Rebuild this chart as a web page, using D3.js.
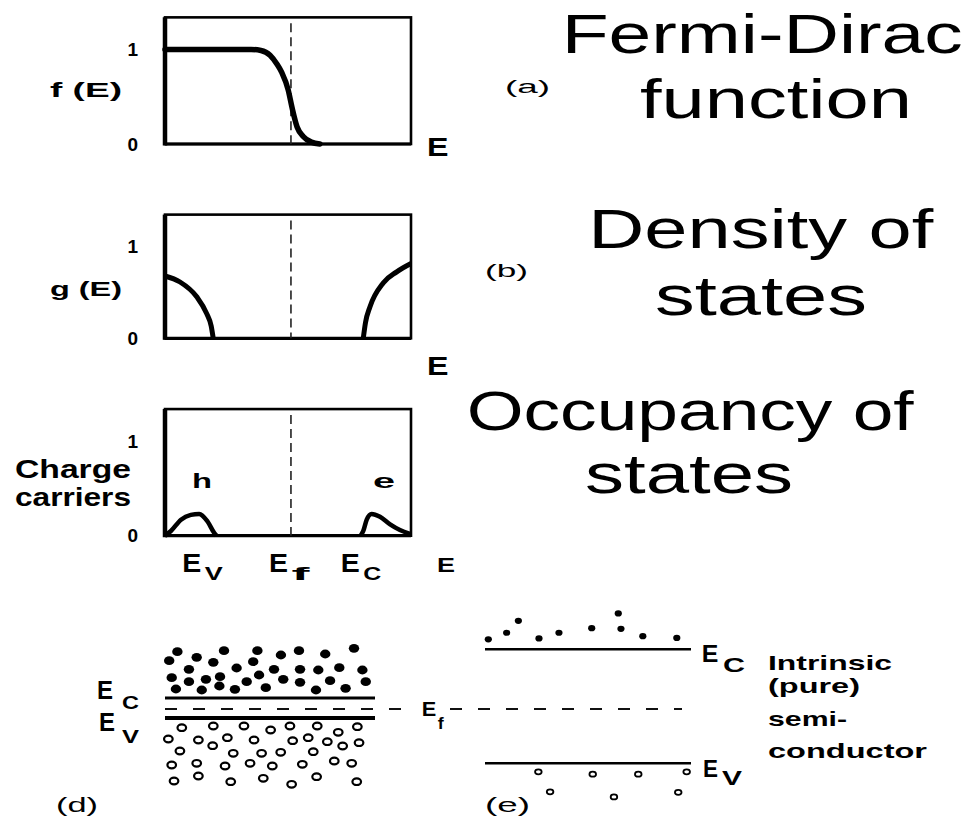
<!DOCTYPE html>
<html>
<head>
<meta charset="utf-8">
<script src="https://cdn.jsdelivr.net/npm/d3@7/dist/d3.min.js"></script>
<style>
  html, body { margin: 0; padding: 0; background: #fff; }
  svg { display: block; }
</style>
</head>
<body>
<svg id="chart" width="967" height="827"></svg>
<script>
// ---- (a) Fermi-Dirac occupation f(E), energy in arbitrary units 0..100 ----
const fdEnergy = [0, 20, 35, 39, 42.7, 45.4, 47.4, 50.1, 51.6, 53.7, 56.2, 59.5, 63];
const fdValue  = [1, 1, 1, 0.99, 0.94, 0.85, 0.76, 0.57, 0.39, 0.18, 0.08, 0.02, 0];
const fermiLevel = 51.2;

// ---- (b) density of states: valence band (left) and conduction band (right) ----
const dosValenceE = [0, 6.1, 12.9, 16.9, 18.8, 19.6];
const dosValenceG = [0.675, 0.61, 0.45, 0.27, 0.13, 0];
const dosCondE = [80.6, 81.5, 83.3, 88.7, 94.2, 100];
const dosCondG = [0, 0.17, 0.34, 0.60, 0.72, 0.81];

// ---- (c) carrier occupancy: holes (h) and electrons (e) ----
const holesE = [0, 2.4, 6.5, 10.5, 13.9, 17.3, 20, 21];
const holesN = [0, 0.05, 0.17, 0.22, 0.23, 0.15, 0.03, 0];
const electronsE = [79.5, 80.6, 82, 84, 87.4, 91.5, 95.5, 99.6];
const electronsN = [0, 0.05, 0.17, 0.23, 0.2, 0.12, 0.06, 0.02];
const carrierTickPos = [15.6, 50.8, 80];
const carrierTickMain = ["E", "E", "E"];
const carrierTickSub = ["V", "f", "C"];
const yTicks = [0, 1];

// ---- (d) band diagram: position 0..100, energy with Ev=-1, Ec=+1, Ef=0 ----
const bandEdges = [1, -1];          // Ec, Ev
const fermiEnergy = 0;
const dElectronsX = [5.9, 15.1, 28.1, 44.0, 55.2, 63.8, 76.3, 90.0, 2.0, 23.0, 42.0, 11.4, 34.1, 51.9, 64.3, 73.0, 83.0, 94.0,
  3.2, 11.4, 19.5, 26.2, 38.9, 44.8, 56.3, 64.3, 78.6, 95.6, 5.2, 17.5, 25.9, 33.3, 48.0, 71.9, 86.0];
const dElectronsE = [5.63, 5.07, 5.73, 5.73, 5.30, 5.73, 5.40, 5.97, 4.73, 4.57, 4.63, 3.87, 4.0, 3.87, 3.87, 3.80, 4.03, 3.80,
  3.03, 2.63, 2.87, 3.13, 2.63, 3.30, 2.87, 2.57, 2.73, 2.63, 1.90, 1.80, 2.20, 1.87, 2.03, 1.80, 1.97];
const dHolesX = [8.0, 23.0, 37.6, 50.3, 59.5, 72.5, 82.5, 91.6, 1.6, 15.9, 22.7, 29.7, 42.4, 60.8, 68.2, 77.3, 84.6, 92.4,
  7.1, 32.5, 46.0, 55.1, 70.6, 3.2, 15.1, 28.6, 40.5, 51.1, 65.4, 80.6, 88.9, 4.3, 15.9, 31.3, 46.8, 60.3, 72.2, 91.3];
const dHolesE = [-1.97, -1.80, -1.80, -2.20, -1.80, -1.80, -2.43, -1.87, -3.10, -3.20, -3.77, -2.97, -3.20, -3.27, -2.97, -3.37, -3.80, -3.47,
  -4.30, -4.53, -4.53, -4.43, -4.37, -5.70, -5.53, -5.80, -5.53, -5.80, -5.63, -5.30, -5.53, -7.30, -6.80, -7.37, -7.03, -7.63, -6.87, -7.37];

// ---- (e) intrinsic semiconductor: few carriers across the gap ----
const eElectronsX = [1.6, 10.5, 16.2, 26.2, 35.9, 51.8, 64.7, 66.0, 76.6, 93.1];
const eElectronsE = [1.175, 1.29, 1.50, 1.19, 1.29, 1.37, 1.63, 1.36, 1.23, 1.20];
const eHolesX = [25.9, 52.3, 74.4, 97.9, 31.6, 62.6, 93.8];
const eHolesE = [-1.15, -1.19, -1.19, -1.15, -1.50, -1.59, -1.51];

const titles = [["Fermi-Dirac", "function"], ["Density of", "states"], ["Occupancy of", "states"]];
const sideNote = ["Intrinsic", "(pure)", "semi-", "conductor"];

// ------------------------------------------------------------------
const svg = d3.select("#chart");
const SANS = "'Liberation Sans', Arial, Helvetica, sans-serif";

function text(x, y, s, size, opt = {}) {
  const t = svg.append("text")
    .attr("x", x).attr("y", y)
    .attr("font-family", opt.family || SANS)
    .attr("font-size", size)
    .attr("font-weight", opt.weight || "bold")
    .attr("fill", "#000")
    .text(s);
  if (opt.len) t.attr("textLength", opt.len).attr("lengthAdjust", "spacingAndGlyphs");
  if (opt.anchor) t.attr("text-anchor", opt.anchor);
  return t;
}
function subLabel(x, y, main, sub, o) {
  text(x, y, main, o.size, { len: o.mainLen });
  text(x + o.subDx, y + o.subDy, sub, o.subSize, { len: o.subLen });
}

// shared energy axis for panels a-c
const xE = d3.scaleLinear().domain([0, 100]).range([165, 411]);
const yMax = 1.34;
const panels = [
  { y: d3.scaleLinear().domain([0, 1]).range([144, 49.5]) },
  { y: d3.scaleLinear().domain([0, 1]).range([338.3, 246]) },
  { y: d3.scaleLinear().domain([0, 1]).range([535.7, 441.2]) }
];

const lineOf = (y) => d3.line().x(d => xE(d[0])).y(d => y(d[1])).curve(d3.curveMonotoneX);
const zip = (a, b) => a.map((v, i) => [v, b[i]]);

panels.forEach((p, i) => {
  const g = svg.append("g");
  const top = p.y(yMax), bot = p.y(0);
  // frame
  g.append("rect").attr("x", xE(0)).attr("y", top)
    .attr("width", xE(100) - xE(0)).attr("height", bot - top)
    .attr("fill", "none").attr("stroke", "#000").attr("stroke-width", 2.6);
  g.append("line").attr("x1", xE(0)).attr("x2", xE(0)).attr("y1", top).attr("y2", bot + 1.5)
    .attr("stroke", "#000").attr("stroke-width", 4.5);
  g.append("line").attr("x1", xE(0)).attr("x2", xE(100)).attr("y1", bot).attr("y2", bot)
    .attr("stroke", "#000").attr("stroke-width", 3.2);
  // Fermi level
  g.append("line").attr("x1", xE(fermiLevel)).attr("x2", xE(fermiLevel))
    .attr("y1", top + 6).attr("y2", bot)
    .attr("stroke", "#222").attr("stroke-width", 1.6).attr("stroke-dasharray", "9,5");
  // 0 / 1 tick labels
  const ax = g.append("g").attr("transform", `translate(${xE(0)},0)`)
    .call(d3.axisLeft(p.y).tickValues(yTicks).tickSize(0).tickPadding(27).tickFormat(d3.format("d")));
  ax.select(".domain").remove();
  ax.selectAll("text").attr("font-family", SANS).attr("font-weight", "bold")
    .attr("font-size", 19).attr("fill", "#000");
});

// (a) f(E)
svg.append("path").datum(zip(fdEnergy, fdValue))
  .attr("d", lineOf(panels[0].y)).attr("fill", "none")
  .attr("stroke", "#000").attr("stroke-width", 5.5).attr("stroke-linecap", "round");

// (b) g(E)
[zip(dosValenceE, dosValenceG), zip(dosCondE, dosCondG)].forEach(d => {
  svg.append("path").datum(d).attr("d", lineOf(panels[1].y)).attr("fill", "none")
    .attr("stroke", "#000").attr("stroke-width", 5);
});

// (c) carriers
[zip(holesE, holesN), zip(electronsE, electronsN)].forEach(d => {
  svg.append("path").datum(d).attr("d", lineOf(panels[2].y)).attr("fill", "none")
    .attr("stroke", "#000").attr("stroke-width", 4.5);
});

// panel labels a-c
text(50, 97, "f (E)", 21, { len: 72 });
text(50, 296, "g (E)", 21, { len: 72 });
text(15, 478, "Charge", 25, { len: 116 });
text(15, 506, "carriers", 25, { len: 116 });
text(192, 488, "h", 21, { len: 20 });
text(373, 488, "e", 21, { len: 22 });
text(427, 156, "E", 25, { len: 21.5 });
text(427, 375, "E", 25, { len: 21.5 });
text(437, 571.7, "E", 21, { len: 18 });
text(505, 93, "(a)", 18, { len: 45, weight: "normal" });
text(485, 277, "(b)", 18, { len: 43, weight: "normal" });
carrierTickPos.forEach((v, i) => {
  subLabel(xE(v) - 21, 571.7, carrierTickMain[i], carrierTickSub[i],
    { size: 26, mainLen: 19, subDx: 22.5, subDy: 8.5, subSize: 18, subLen: 18 });
});

// big captions
const capSize = 56;
const capLayout = [[561.7, 53.3, 401], [640, 118.3, 272], [588.3, 248.3, 345], [655, 315, 212], [466.7, 430, 447], [585, 493.3, 208]];
titles.flat().forEach((s, i) => {
  const [x, y, w] = capLayout[i];
  text(x, y, s, capSize, { weight: "normal", len: w });
});

// ---- (d) ----
const xD = d3.scaleLinear().domain([0, 100]).range([165, 375]);
const yD = d3.scaleLinear().domain([-1, 1]).range([718, 698]);
const gD = svg.append("g");
gD.selectAll("line.band").data(bandEdges).join("line")
  .attr("x1", xD(0)).attr("x2", xD(100))
  .attr("y1", d => yD(d)).attr("y2", d => yD(d))
  .attr("stroke", "#000").attr("stroke-width", (d, i) => i === 0 ? 3 : 3.8);
gD.selectAll("ellipse.el").data(zip(dElectronsX, dElectronsE)).join("ellipse")
  .attr("cx", d => xD(d[0])).attr("cy", d => yD(d[1]))
  .attr("rx", 5.2).attr("ry", 4.4).attr("fill", "#000");
gD.selectAll("ellipse.ho").data(zip(dHolesX, dHolesE)).join("ellipse")
  .attr("cx", d => xD(d[0])).attr("cy", d => yD(d[1]))
  .attr("rx", 4.3).attr("ry", 3.3).attr("fill", "none").attr("stroke", "#000").attr("stroke-width", 2.2);

// Fermi level across (d) and (e)
const ef = yD(fermiEnergy) + 1;
[[xD(0), 413], [450, 682]].forEach(([a, b]) => {
  svg.append("line").attr("x1", a).attr("x2", b).attr("y1", ef).attr("y2", ef)
    .attr("stroke", "#111").attr("stroke-width", 1.8).attr("stroke-dasharray", "12,16");
});
subLabel(421.7, 716, "E", "f", { size: 20, mainLen: 14.5, subDx: 16, subDy: 13, subSize: 17, subLen: 6 });
subLabel(97, 699, "E", "C", { size: 25, mainLen: 16, subDx: 25, subDy: 10, subSize: 19, subLen: 17 });
subLabel(99, 731, "E", "V", { size: 25, mainLen: 16, subDx: 23, subDy: 12, subSize: 19, subLen: 17 });
text(56, 812, "(d)", 20, { len: 42, weight: "normal" });

// ---- (e) ----
const xI = d3.scaleLinear().domain([0, 100]).range([485, 691]);
const yI = d3.scaleLinear().domain([-1, 1]).range([763.3, 649.3]);
const gE = svg.append("g");
gE.selectAll("line.band").data(bandEdges).join("line")
  .attr("x1", xI(0)).attr("x2", xI(100))
  .attr("y1", d => yI(d)).attr("y2", d => yI(d))
  .attr("stroke", "#000").attr("stroke-width", 2.6);
gE.selectAll("ellipse.el").data(zip(eElectronsX, eElectronsE)).join("ellipse")
  .attr("cx", d => xI(d[0])).attr("cy", d => yI(d[1]))
  .attr("rx", 3.6).attr("ry", 3.1).attr("fill", "#000");
gE.selectAll("ellipse.ho").data(zip(eHolesX, eHolesE)).join("ellipse")
  .attr("cx", d => xI(d[0])).attr("cy", d => yI(d[1]))
  .attr("rx", 3.3).attr("ry", 2.5).attr("fill", "none").attr("stroke", "#000").attr("stroke-width", 1.8);
subLabel(701.7, 661.7, "E", "C", { size: 23, mainLen: 16.6, subDx: 21.3, subDy: 10, subSize: 21, subLen: 22 });
subLabel(703, 776.7, "E", "V", { size: 23, mainLen: 15, subDx: 19, subDy: 8.3, subSize: 21, subLen: 20 });
text(485, 812, "(e)", 20, { len: 45, weight: "normal" });

const noteLayout = [[670, 124], [693.3, 92], [725.7, 79], [758.3, 159]];
sideNote.forEach((s, i) => {
  text(768, noteLayout[i][0], s, 20.8, { len: noteLayout[i][1] });
});
</script>
</body>
</html>
